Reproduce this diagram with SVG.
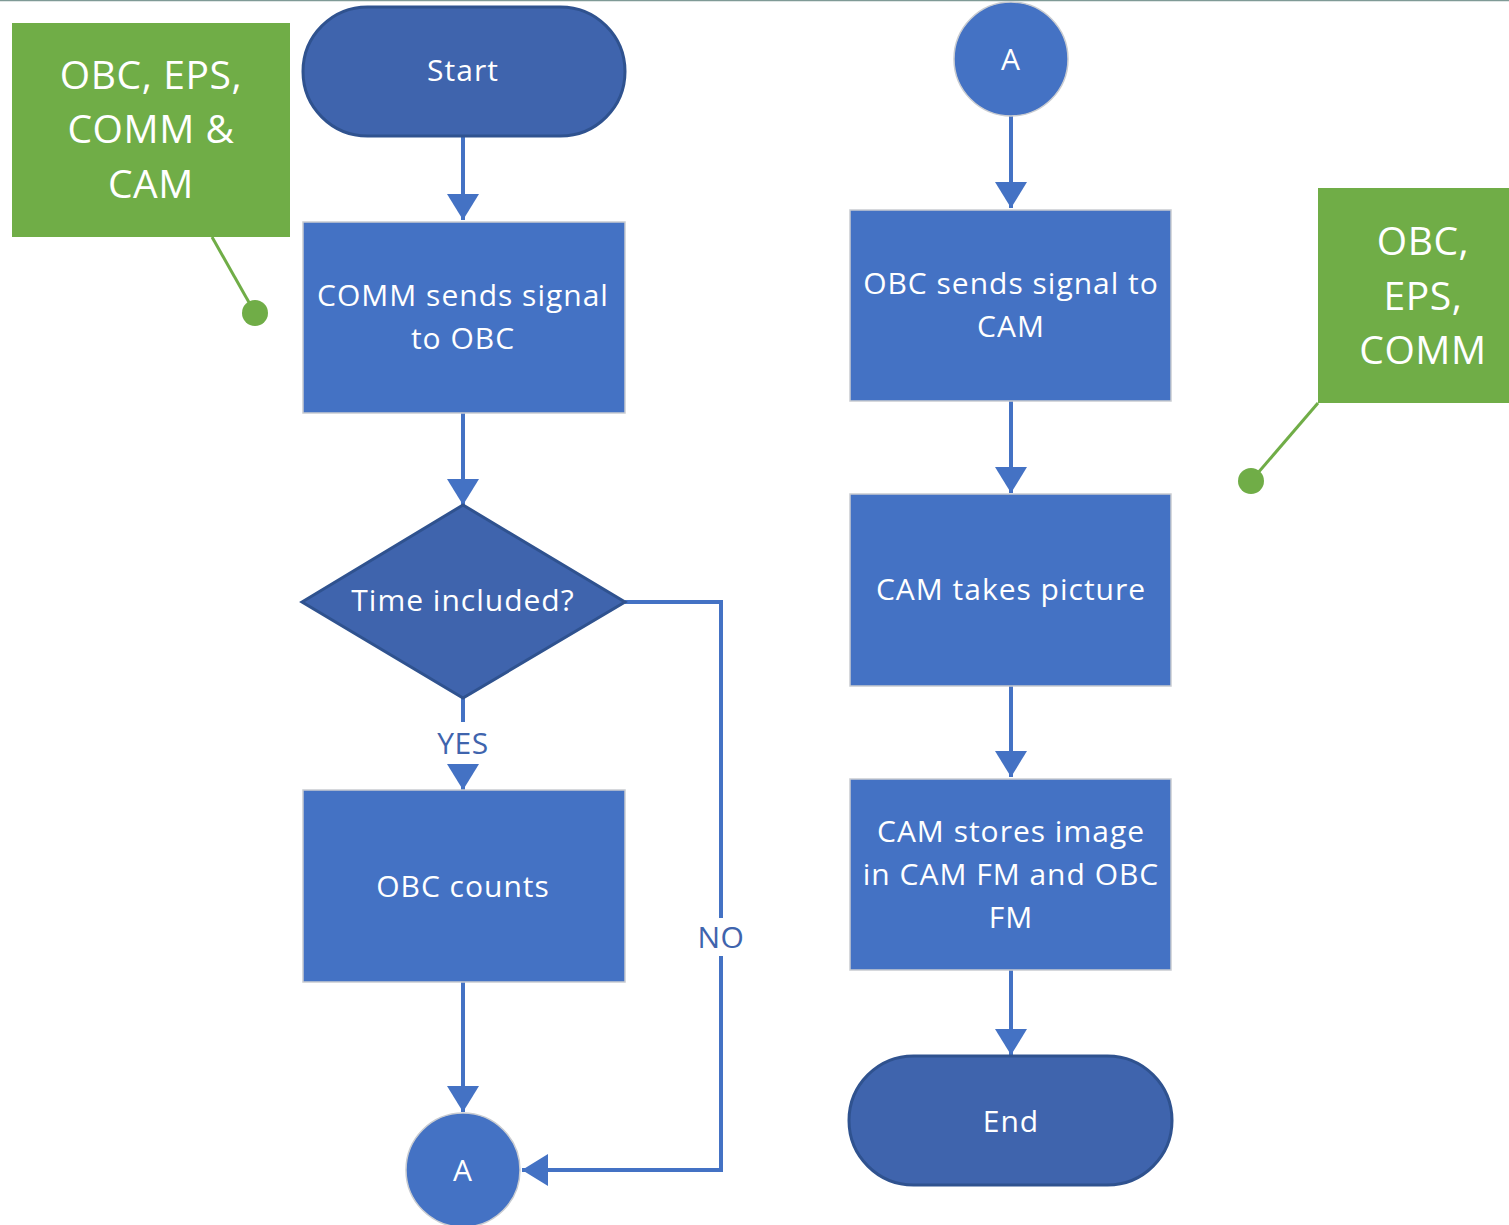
<svg xmlns="http://www.w3.org/2000/svg" width="1509" height="1225" viewBox="0 0 1509 1225">
<defs>
<style>
.t{font-family:"Open Sans","Liberation Sans",sans-serif;fill:#fff;text-anchor:middle;dominant-baseline:central;font-size:30px;letter-spacing:1px}
.g{font-size:39px;letter-spacing:0.6px}
.proc{fill:#4472c4;stroke:#c9ccd1;stroke-width:1.5}
.term{fill:#3f64ad;stroke:#2f528f;stroke-width:3}
.circ{fill:#4472c4;stroke:#c9ccd1;stroke-width:1.5}
.green{fill:#70ad47}
.conn{fill:none;stroke:#4472c4;stroke-width:4}
.gl{stroke:#70ad47;stroke-width:3;fill:none}
.lbl{font-family:"Open Sans","Liberation Sans",sans-serif;fill:#3f64ad;text-anchor:middle;dominant-baseline:central;font-size:30px;letter-spacing:0.5px}
</style>
<marker id="ah" viewBox="0 0 26 32" refX="26" refY="16" markerWidth="26" markerHeight="32" markerUnits="userSpaceOnUse" orient="auto">
<path d="M0,0 L26,16 L0,32 Z" fill="#4472c4"/>
</marker>
</defs>
<rect x="0" y="0" width="1509" height="1225" fill="#fff"/>
<line x1="0" y1="0.5" x2="1509" y2="0.5" stroke="#7f9a96" stroke-width="1.5"/>

<g id="connectors">
<line class="conn" x1="463" y1="136" x2="463" y2="220" marker-end="url(#ah)"/>
<line class="conn" x1="463" y1="413" x2="463" y2="505" marker-end="url(#ah)"/>
<line class="conn" x1="463" y1="698" x2="463" y2="722"/>
<line class="conn" x1="463" y1="766" x2="463" y2="790" marker-end="url(#ah)"/>
<line class="conn" x1="463" y1="982" x2="463" y2="1112" marker-end="url(#ah)"/>
<polyline class="conn" points="625,602 721,602 721,1170 522,1170" marker-end="url(#ah)"/>
<line class="conn" x1="1011" y1="116" x2="1011" y2="208" marker-end="url(#ah)"/>
<line class="conn" x1="1011" y1="401" x2="1011" y2="493" marker-end="url(#ah)"/>
<line class="conn" x1="1011" y1="686" x2="1011" y2="777" marker-end="url(#ah)"/>
<line class="conn" x1="1011" y1="970" x2="1011" y2="1055" marker-end="url(#ah)"/>
<text class="lbl" x="463" y="742">YES</text>
<rect x="695" y="918" width="52" height="38" fill="#fff"/>
<text class="lbl" x="721" y="936">NO</text>
</g>

<g id="note-left">
<rect class="green" x="12" y="23" width="278" height="214"/>
<line class="gl" x1="212" y1="237" x2="255" y2="313"/>
<circle cx="255" cy="313" r="13" fill="#70ad47"/>
<text class="t g" x="151" y="73">OBC, EPS,</text>
<text class="t g" x="151" y="127">COMM &amp;</text>
<text class="t g" x="151" y="182">CAM</text>
</g>

<g id="note-right">
<rect class="green" x="1318" y="188" width="191" height="215"/>
<line class="gl" x1="1318" y1="403" x2="1251" y2="481"/>
<circle cx="1251" cy="481" r="13" fill="#70ad47"/>
<text class="t g" x="1423" y="239">OBC,</text>
<text class="t g" x="1423" y="294">EPS,</text>
<text class="t g" x="1423" y="348">COMM</text>
</g>

<g id="start">
<rect class="term" x="303" y="7" width="322" height="129" rx="64.5"/>
<text class="t" x="463" y="69">Start</text>
</g>

<g id="comm-sends">
<rect class="proc" x="303" y="222" width="322" height="191"/>
<text class="t" x="463" y="294">COMM sends signal</text>
<text class="t" x="463" y="337">to OBC</text>
</g>

<g id="time-included">
<polygon class="term" points="302,602 463,505 625,602 463,698"/>
<text class="t" x="463" y="599">Time included?</text>
</g>

<g id="obc-counts">
<rect class="proc" x="303" y="790" width="322" height="192"/>
<text class="t" x="463" y="885">OBC counts</text>
</g>

<g id="a-left">
<circle class="circ" cx="463" cy="1170" r="57"/>
<text class="t" x="463" y="1169">A</text>
</g>

<g id="a-right">
<circle class="circ" cx="1011" cy="59" r="57"/>
<text class="t" x="1011" y="58">A</text>
</g>

<g id="obc-sends">
<rect class="proc" x="850" y="210" width="321" height="191"/>
<text class="t" x="1011" y="282">OBC sends signal to</text>
<text class="t" x="1011" y="325">CAM</text>
</g>

<g id="cam-takes">
<rect class="proc" x="850" y="494" width="321" height="192"/>
<text class="t" x="1011" y="588">CAM takes picture</text>
</g>

<g id="cam-stores">
<rect class="proc" x="850" y="779" width="321" height="191"/>
<text class="t" x="1011" y="830">CAM stores image</text>
<text class="t" x="1011" y="873">in CAM FM and OBC</text>
<text class="t" x="1011" y="916">FM</text>
</g>

<g id="end">
<rect class="term" x="849" y="1056" width="323" height="129" rx="64.5"/>
<text class="t" x="1011" y="1120">End</text>
</g>
</svg>
